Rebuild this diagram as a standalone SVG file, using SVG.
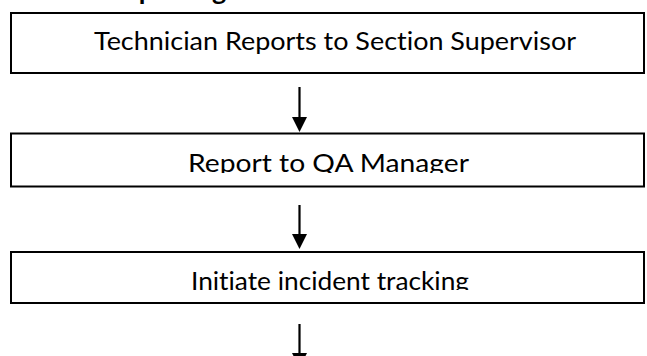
<svg xmlns="http://www.w3.org/2000/svg" width="647" height="356" viewBox="0 0 647 356">
<style>
.box{fill:#fff;stroke:#000;stroke-width:2}
.lbl{font-family:Lato,"Open Sans","Liberation Sans",sans-serif;font-size:25px;fill:#000;text-anchor:middle;font-variant-ligatures:none}
.head{font-family:Lato,"Liberation Sans",sans-serif;font-size:27px;font-weight:bold;fill:#000;font-variant-ligatures:none}
.conn{stroke:#000;stroke-width:2.2;fill:none}
</style>
<defs>
<marker id="ah" markerUnits="userSpaceOnUse" markerWidth="16" markerHeight="16" refX="0" refY="7.5" orient="auto" overflow="visible">
<path d="M0,0 L15,7.5 L0,15 Z" fill="#000"/>
</marker>
<clipPath id="c2"><rect x="11" y="133" width="633" height="40"/></clipPath>
<clipPath id="c3"><rect x="11" y="252" width="633" height="38"/></clipPath>
</defs>
<text class="head" x="108" y="0">Reporting</text>
<g id="n1">
<rect class="box" x="11" y="13" width="633" height="60"/>
<text class="lbl" x="335" y="50" textLength="482" lengthAdjust="spacingAndGlyphs">Technician Reports to Section Supervisor</text>
</g>
<g id="n2">
<rect class="box" x="11" y="133.5" width="633" height="53"/>
<text class="lbl" x="328.5" y="172" textLength="281" lengthAdjust="spacingAndGlyphs" clip-path="url(#c2)">Report to QA Manager</text>
</g>
<g id="n3">
<rect class="box" x="11" y="252" width="633" height="51"/>
<text class="lbl" x="330" y="289.5" textLength="278" lengthAdjust="spacingAndGlyphs" clip-path="url(#c3)">Initiate incident tracking</text>
</g>
<g id="connectors">
<line class="conn" x1="299.5" y1="87" x2="299.5" y2="117" marker-end="url(#ah)"/>
<line class="conn" x1="299.5" y1="205" x2="299.5" y2="234" marker-end="url(#ah)"/>
<line class="conn" x1="299.5" y1="324" x2="299.5" y2="353" marker-end="url(#ah)"/>
</g>
</svg>
